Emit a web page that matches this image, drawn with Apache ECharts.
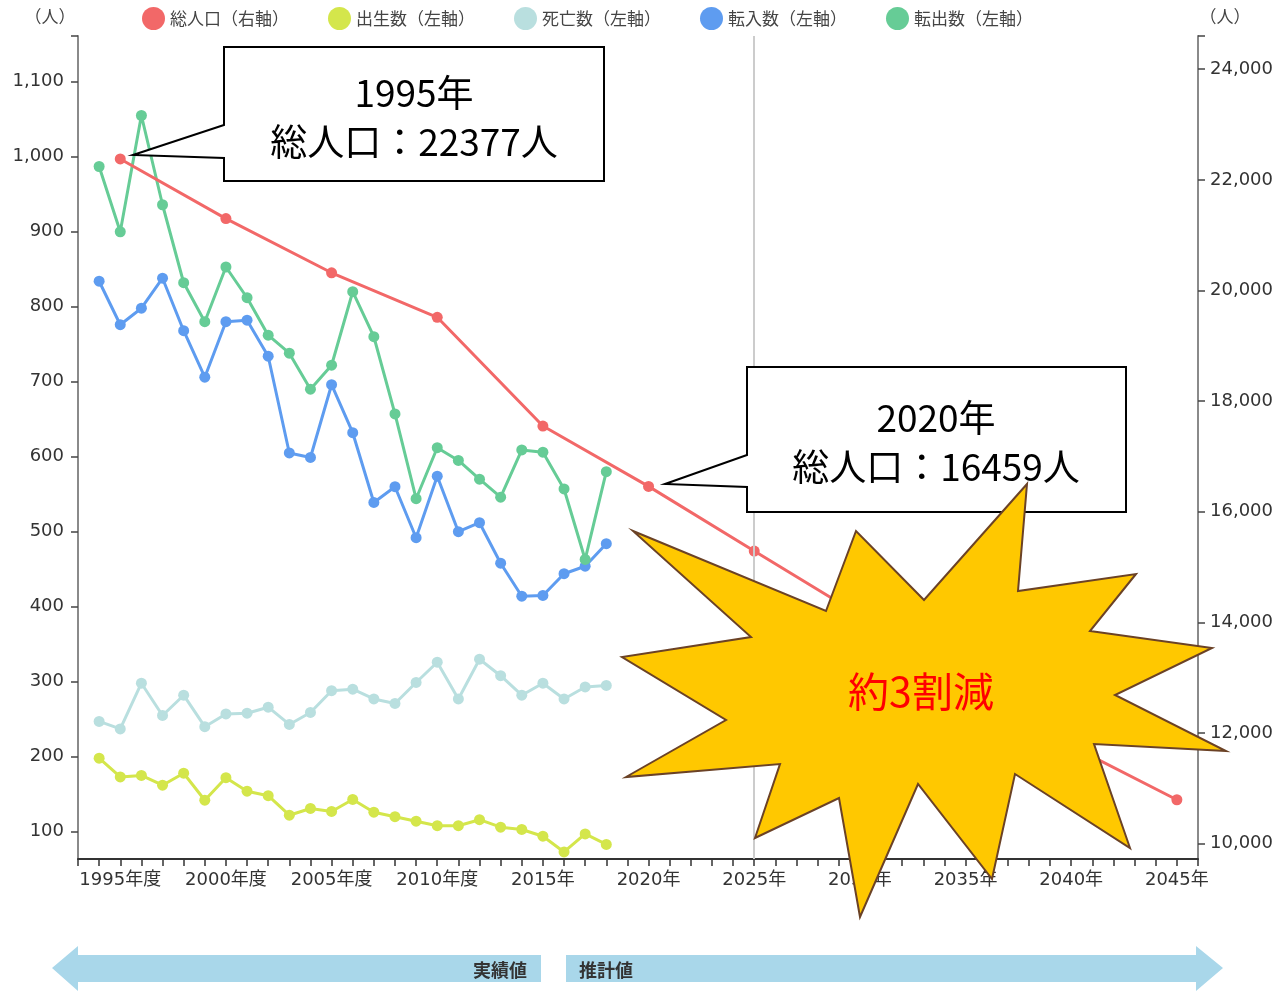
<!DOCTYPE html>
<html>
<head>
<meta charset="utf-8">
<script src="https://cdn.jsdelivr.net/npm/echarts@6/dist/echarts.min.js"></script>
<style>
  html, body { margin: 0; padding: 0; background: #fff; }
  #main { width: 1278px; height: 995px; }
</style>
</head>
<body>
<div id="main"></div>
<script>
// categories (one per year, axis runs 1993..2046)
var years = ['1993','1994','1995','1996','1997','1998','1999','2000','2001','2002',
             '2003','2004','2005','2006','2007','2008','2009','2010','2011','2012',
             '2013','2014','2015','2016','2017','2018','2019','2020','2021','2022',
             '2023','2024','2025','2026','2027','2028','2029','2030','2031','2032',
             '2033','2034','2035','2036','2037','2038','2039','2040','2041','2042',
             '2043','2044','2045','2046'];

// x tick labels
var labelYears = ['1995','2000','2005','2010','2015','2020','2025','2030','2035','2040','2045'];
var labelTexts = ['1995年度','2000年度','2005年度','2010年度','2015年','2020年','2025年','2030年','2035年','2040年','2045年'];

// yearly values, 1994 - 2018
var actualYears = ['1994','1995','1996','1997','1998','1999','2000','2001','2002','2003',
                   '2004','2005','2006','2007','2008','2009','2010','2011','2012','2013',
                   '2014','2015','2016','2017','2018'];
var births   = [198, 173, 175, 162, 178, 142, 172, 154, 148, 122, 131, 127, 143, 126, 120, 114, 108, 108, 116, 106, 103, 94, 73, 97, 83];
var deaths   = [247, 237, 298, 255, 282, 240, 257, 258, 266, 243, 259, 288, 290, 277, 271, 299, 326, 277, 330, 308, 282, 298, 277, 293, 295];
var moveIn   = [834, 776, 798, 838, 768, 706, 780, 782, 734, 605, 599, 696, 632, 539, 560, 492, 574, 500, 512, 458, 414, 415, 444, 454, 484];
var moveOut  = [987, 900, 1055, 936, 832, 780, 853, 812, 762, 738, 690, 722, 820, 760, 657, 544, 612, 595, 570, 546, 609, 606, 557, 463, 580];

// total population every 5 years
var popYears = ['1995','2000','2005','2010','2015','2020','2025','2030','2035','2040','2045'];
var population = [22377, 21300, 20320, 19515, 17550, 16459, 15290, 14130, 12960, 11770, 10795];

// y axis ticks
var leftTicks = [100, 200, 300, 400, 500, 600, 700, 800, 900, 1000, 1100];
var rightTicks = [10000, 12000, 14000, 16000, 18000, 20000, 22000, 24000];
var leftMin = 63.6, leftMax = 1161;
var rightMin = 9724, rightMax = 24600;

var NUM_FONT = "'DejaVu Sans', 'Noto Sans CJK JP', sans-serif";
var JP_FONT = "'Noto Sans CJK JP', sans-serif";

function pairs(cats, vals) {
  return cats.map(function (c, i) { return [c, vals[i]]; });
}

function lineSeries(name, color, cats, vals, axis) {
  return {
    name: name,
    type: 'line',
    yAxisIndex: axis,
    data: pairs(cats, vals),
    symbol: 'circle',
    symbolSize: 11,
    itemStyle: { color: color },
    lineStyle: { color: color, width: 3 }
  };
}

var myChart = echarts.init(document.getElementById('main'));

var axisLineStyle = { color: '#8a8a8a', width: 2 };

var option = {
  animation: false,
  textStyle: { fontFamily: NUM_FONT },
  legend: {
    data: ['総人口（右軸）', '出生数（左軸）', '死亡数（左軸）', '転入数（左軸）', '転出数（左軸）'],
    left: 137,
    top: 2,
    icon: 'circle',
    itemWidth: 23,
    itemHeight: 23,
    itemGap: 39,
    textStyle: { fontSize: 17, color: '#444', fontFamily: JP_FONT }
  },
  grid: { left: 78, right: 80, top: 36, bottom: 136, containLabel: false, outerBoundsMode: 'none' },
  xAxis: {
    type: 'category',
    data: years,
    boundaryGap: false,
    axisLine: { lineStyle: { color: '#333', width: 2 } },
    axisTick: { interval: 0, length: 7, lineStyle: { color: '#333', width: 1.5 } },
    axisLabel: {
      interval: function (index, value) { return labelYears.indexOf(value) >= 0; },
      formatter: function (value) { return labelTexts[labelYears.indexOf(value)]; },
      fontSize: 18,
      color: '#333',
      margin: 12
    },
    splitLine: { show: false }
  },
  yAxis: [
    {
      type: 'value',
      position: 'left',
      min: leftMin,
      max: leftMax,
      axisLine: { show: true, lineStyle: axisLineStyle },
      axisTick: { show: true, length: 7, lineStyle: { color: '#444', width: 1.5 },
                  customValues: leftTicks.concat([leftMax]) },
      axisLabel: {
        customValues: leftTicks,
        formatter: function (v) { return v.toLocaleString('en-US'); },
        fontSize: 18, color: '#333', margin: 14
      },
      splitLine: { show: false }
    },
    {
      type: 'value',
      position: 'right',
      min: rightMin,
      max: rightMax,
      axisLine: { show: true, lineStyle: axisLineStyle },
      axisTick: { show: true, length: 7, lineStyle: { color: '#444', width: 1.5 },
                  customValues: rightTicks.concat([rightMax]) },
      axisLabel: {
        customValues: rightTicks,
        formatter: function (v) { return v.toLocaleString('en-US'); },
        fontSize: 18, color: '#333', margin: 12
      },
      splitLine: { show: false }
    }
  ],
  series: [
    lineSeries('出生数（左軸）', '#d4e64b', actualYears, births, 0),
    lineSeries('死亡数（左軸）', '#b9dfdf', actualYears, deaths, 0),
    lineSeries('転入数（左軸）', '#5e9cf0', actualYears, moveIn, 0),
    lineSeries('転出数（左軸）', '#66cc96', actualYears, moveOut, 0),
    Object.assign(lineSeries('総人口（右軸）', '#f26868', popYears, population, 1), {
      markLine: {
        silent: true,
        symbol: 'none',
        label: { show: false },
        lineStyle: { color: '#cccccc', width: 2, type: 'solid' },
        data: [{ xAxis: '2025' }]
      }
    })
  ],
  graphic: [
    // axis units
    { type: 'text', z: 100, style: { text: '（人）', x: 50, y: 17, align: 'center', verticalAlign: 'middle', fontSize: 17, fontFamily: JP_FONT, fill: '#444' } },
    { type: 'text', z: 100, style: { text: '（人）', x: 1225, y: 17, align: 'center', verticalAlign: 'middle', fontSize: 17, fontFamily: JP_FONT, fill: '#444' } },

    // callout 1995
    { type: 'polygon', z: 100,
      shape: { points: [[224,47],[604,47],[604,181],[224,181],[224,158],[133,155],[224,125]] },
      style: { fill: '#fff', stroke: '#000', lineWidth: 2 } },
    { type: 'text', z: 101, style: { text: '1995年', x: 414, y: 93, align: 'center', verticalAlign: 'middle', fontSize: 37, fontFamily: JP_FONT, fill: '#000' } },
    { type: 'text', z: 101, style: { text: '総人口：22377人', x: 414, y: 142, align: 'center', verticalAlign: 'middle', fontSize: 37, fontFamily: JP_FONT, fill: '#000' } },

    // callout 2020
    { type: 'polygon', z: 100,
      shape: { points: [[747,367],[1126,367],[1126,512],[747,512],[747,487],[665,484],[747,455]] },
      style: { fill: '#fff', stroke: '#000', lineWidth: 2 } },
    { type: 'text', z: 101, style: { text: '2020年', x: 936, y: 418, align: 'center', verticalAlign: 'middle', fontSize: 37, fontFamily: JP_FONT, fill: '#000' } },
    { type: 'text', z: 101, style: { text: '総人口：16459人', x: 936, y: 467, align: 'center', verticalAlign: 'middle', fontSize: 37, fontFamily: JP_FONT, fill: '#000' } },

    // explosion
    { type: 'polygon', z: 102,
      shape: { points: [
        [1027,484],[1018,591],[1136,574],[1090,631],[1212,648],[1115,695],
        [1226,751],[1094,744],[1130,848],[1015,774],[992,879],[918,784],
        [860,917],[839,798],[755,838],[780,764],[626,777],[726,720],
        [622,657],[751,637],[633,531],[826,611],[856,531],[924,600]
      ] },
      style: { fill: '#ffc800', stroke: '#6b4226', lineWidth: 2 } },
    { type: 'text', z: 103, style: { text: '約3割減', x: 921, y: 691, align: 'center', verticalAlign: 'middle', fontSize: 41, fontFamily: JP_FONT, fill: '#ff0000' } },

    // bottom arrows
    { type: 'polygon', z: 100,
      shape: { points: [[52,968],[78,946],[78,955],[541,955],[541,982],[78,982],[78,991]] },
      style: { fill: '#a9d7ea' } },
    { type: 'polygon', z: 100,
      shape: { points: [[566,955],[1196,955],[1196,946],[1223,968],[1196,991],[1196,982],[566,982]] },
      style: { fill: '#a9d7ea' } },
    { type: 'text', z: 101, style: { text: '実績値', x: 527, y: 970, align: 'right', verticalAlign: 'middle', fontSize: 18, fontWeight: 'bold', fontFamily: JP_FONT, fill: '#333' } },
    { type: 'text', z: 101, style: { text: '推計値', x: 579, y: 970, align: 'left', verticalAlign: 'middle', fontSize: 18, fontWeight: 'bold', fontFamily: JP_FONT, fill: '#333' } }
  ]
};

myChart.setOption(option);
</script>
</body>
</html>
